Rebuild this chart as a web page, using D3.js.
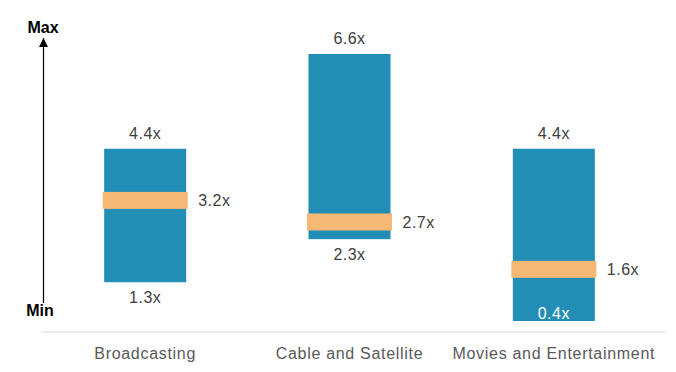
<!DOCTYPE html>
<html>
<head>
<meta charset="utf-8">
<script src="https://cdn.jsdelivr.net/npm/d3@7"></script>
<style>
  body { margin: 0; background: #fff; }
  svg { display: block; font-family: Arial, "Liberation Sans", sans-serif; }
</style>
</head>
<body>
<svg></svg>
<script>
const categories = ["Broadcasting", "Cable and Satellite", "Movies and Entertainment"];
const minValues = [1.3, 2.3, 0.4];
const maxValues = [4.4, 6.6, 4.4];
const medianValues = [3.2, 2.7, 1.6];

const width = 676;
const height = 372;
const baseline = 332;

const svg = d3.select("svg").attr("width", width).attr("height", height);

const data = categories.map((c, i) => ({
  cat: c,
  min: minValues[i],
  max: maxValues[i],
  med: medianValues[i]
}));

const x = d3.scaleBand().domain(categories).range([43, 656]);
const barW = 82;
const y = d3.scaleLinear().domain([0.4, 6.6]).range([321, 54]);
const fmt = v => d3.format(".1f")(v) + "x";

// baseline
svg.append("line")
  .attr("x1", 42).attr("x2", 666)
  .attr("y1", baseline).attr("y2", baseline)
  .attr("stroke", "#d9d9d9").attr("stroke-width", 1);

// Min -> Max arrow
svg.append("defs").append("marker")
  .attr("id", "arrow")
  .attr("viewBox", "0 0 10 10")
  .attr("refX", 10).attr("refY", 5)
  .attr("markerWidth", 9).attr("markerHeight", 10)
  .attr("markerUnits", "userSpaceOnUse")
  .attr("orient", "auto")
  .append("path")
  .attr("d", "M0,0L10,5L0,10Z")
  .attr("fill", "#000");

svg.append("line")
  .attr("x1", 43.5).attr("x2", 43.5)
  .attr("y1", 303).attr("y2", 38)
  .attr("stroke", "#000").attr("stroke-width", 1.2)
  .attr("marker-end", "url(#arrow)");

svg.append("text")
  .attr("x", 43).attr("y", 33)
  .attr("text-anchor", "middle")
  .attr("font-size", 16).attr("font-weight", "bold")
  .text("Max");
svg.append("text")
  .attr("x", 40).attr("y", 316)
  .attr("text-anchor", "middle")
  .attr("font-size", 16).attr("font-weight", "bold")
  .text("Min");

const g = svg.selectAll("g.cat")
  .data(data)
  .join("g")
  .classed("cat", true)
  .attr("transform", d => `translate(${x(d.cat) + x.bandwidth() / 2},0)`);

g.append("rect")
  .attr("x", -barW / 2)
  .attr("width", barW)
  .attr("y", d => y(d.max))
  .attr("height", d => y(d.min) - y(d.max))
  .attr("fill", "#228eb5");

g.append("rect")
  .attr("x", -barW / 2 - 1.5)
  .attr("width", barW + 3)
  .attr("y", d => y(d.med) - 8.5)
  .attr("height", 17)
  .attr("fill", "#f6b975");

// max label
g.append("text")
  .attr("y", d => y(d.max) - 10)
  .attr("text-anchor", "middle")
  .attr("font-size", 16).attr("letter-spacing", 0.5).attr("fill", "#404040")
  .text(d => fmt(d.max));

// min label: below the bar, or inside it when close to the baseline
g.append("text")
  .each(function(d) {
    const inside = y(d.min) + 22 > baseline;
    d3.select(this)
      .attr("y", inside ? y(d.min) - 2 : y(d.min) + 21)
      .attr("fill", inside ? "#fff" : "#404040");
  })
  .attr("text-anchor", "middle")
  .attr("font-size", 16).attr("letter-spacing", 0.5)
  .text(d => fmt(d.min));

// median label
g.append("text")
  .attr("x", barW / 2 + 12)
  .attr("y", d => y(d.med) + 6)
  .attr("font-size", 16).attr("letter-spacing", 0.5).attr("fill", "#404040")
  .text(d => fmt(d.med));

// category labels
g.append("text")
  .attr("y", 359)
  .attr("text-anchor", "middle")
  .attr("font-size", 16).attr("letter-spacing", 0.7).attr("fill", "#595959")
  .text(d => d.cat);
</script>
</body>
</html>
